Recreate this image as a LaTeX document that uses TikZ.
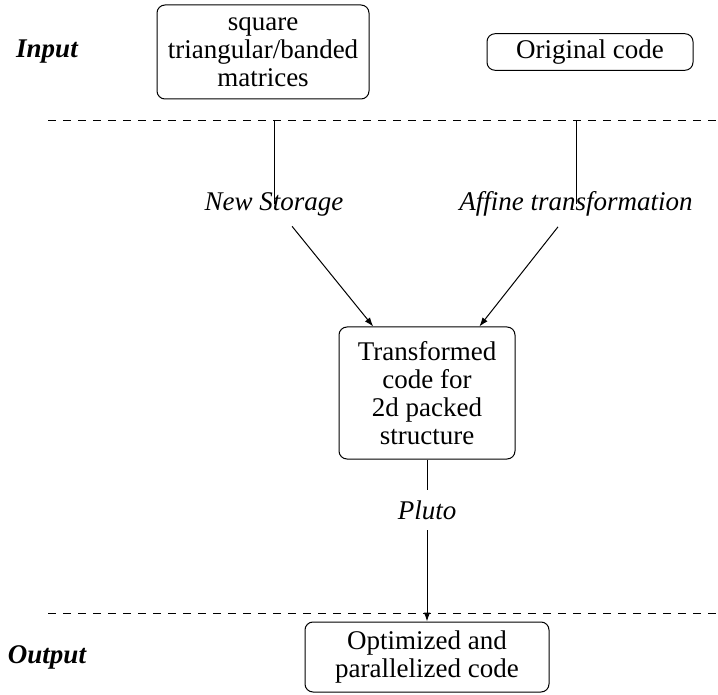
\documentclass[tikz,border=0pt]{standalone}
\usepackage{fontspec}
\setmainfont{Liberation Serif}
\usepackage{tikz}
\usetikzlibrary{positioning}
\usetikzlibrary{arrows.meta}

\tikzset{
  block/.style={draw, rounded corners=4pt, align=center, inner sep=3pt},
  stage/.style={font=\fontsize{13.5}{14}\selectfont\bfseries\itshape},
  pass/.style={font=\fontsize{13.5}{14}\selectfont\itshape, inner sep=5pt},
  sep/.style={dash pattern=on 3.75pt off 3.75pt},
}

\begin{document}
\fontsize{13.5}{14}\selectfont
\begin{tikzpicture}[x=0.5pt, y=-0.5pt, line width=0.5pt,
  >={Latex[length=4.5pt,width=3.2pt]}]

  \useasboundingbox (0,0) rectangle (718,695);

  % Define nodes
  \node[stage] (input) at (47,52) {Input};
  \node[block, minimum width=106pt, minimum height=47pt] (matrices) at (263,52)
    {square\\ triangular/banded\\ matrices};
  \node[block, minimum width=103pt, minimum height=17pt] (orig) at (590,52) {Original code};

  \coordinate (top l) at (48,121);
  \coordinate (top r) at (718,121);
  \coordinate (sl) at (274,121);
  \coordinate (sr) at (576,121);

  \node[pass] (storage) at (274,204) {New Storage};
  \node[pass] (affine) at (576,204) {Affine transformation};

  \node[block, minimum width=88pt, minimum height=66pt] (packed) at (427,393)
    {Transformed\\ code for\\ 2d packed\\ structure};
  \node[pass] (pluto) at (427,510) {Pluto};

  \coordinate (bot l) at (48,613);
  \coordinate (bot r) at (718,613);

  \node[block, minimum width=122pt, minimum height=35pt] (out) at (427,657)
    {Optimized and\\ parallelized code};
  \node[stage] (output) at (47,657) {Output};

  % Separators
  \draw[sep] (top l) -- (top r);
  \draw[sep] (bot l) -- (bot r);

  % Connect nodes
  \draw (sl) -- (storage.center);
  \draw (sr) -- (affine.center);
  \draw[->] (storage) -- (packed);
  \draw[->] (affine) -- (packed);
  \draw (packed) -- (pluto);
  \draw[->] (pluto) -- (out);

\end{tikzpicture}
\end{document}
